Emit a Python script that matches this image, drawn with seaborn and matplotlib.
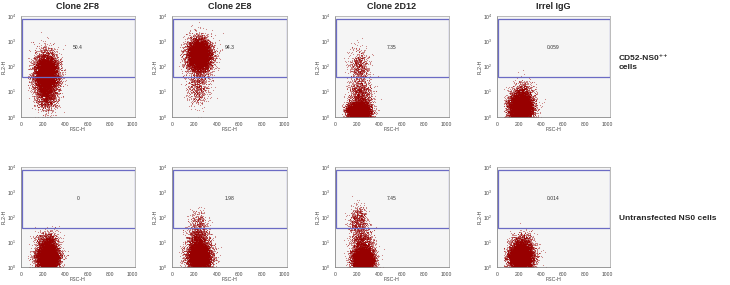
import numpy as np
import pandas as pd
import matplotlib
matplotlib.use("Agg")
import matplotlib.pyplot as plt
from matplotlib.patches import Rectangle
from matplotlib.ticker import FixedLocator, NullFormatter
import seaborn as sns

# --- data ---
clones = ["Clone 2F8", "Clone 2E8", "Clone 2D12", "Irrel IgG"]
row_labels = ["CD52-NS0⁺⁺\ncells", "Untransfected NS0 cells"]
gate_pct_top = ["50.4", "94.3", "7.35", "0.059"]
gate_pct_bottom = ["0", "1.98", "7.45", "0.014"]

gate_fsc = [10, 1023]      # FSC-H range of the gate
gate_fl2 = [38, 7600]      # FL2-H range of the gate

x_ticks = [0, 200, 400, 600, 800, 1000]
y_ticks = [1, 10, 100, 1000, 10000]
y_tick_labels = ["10$^0$", "10$^1$", "10$^2$", "10$^3$", "10$^4$"]

# cell populations per panel: (FSC centre, FSC sd, log10 FL2 centre, log10 sd, share)
pops_top = [
    [(225, 55, 1.70, 0.42, 0.85), (228, 52, 0.90, 0.35, 0.15)],
    [(242, 55, 2.45, 0.33, 0.92), (232, 50, 1.20, 0.35, 0.08)],
    [(212, 50, 0.22, 0.18, 0.78), (228, 52, 0.85, 0.35, 0.14), (218, 44, 2.00, 0.35, 0.08)],
    [(215, 55, 0.40, 0.28, 0.92), (228, 50, 0.95, 0.25, 0.08)],
]
pops_bottom = [
    [(240, 50, 0.35, 0.25, 0.85), (240, 50, 0.95, 0.22, 0.15)],
    [(242, 52, 0.40, 0.28, 0.80), (232, 50, 1.10, 0.35, 0.18), (232, 44, 1.90, 0.20, 0.02)],
    [(252, 48, 0.30, 0.22, 0.78), (242, 50, 0.95, 0.30, 0.14), (208, 40, 1.85, 0.30, 0.08)],
    [(215, 55, 0.40, 0.26, 0.90), (228, 50, 0.95, 0.22, 0.10)],
]
n_events = 9000

# panel boxes in pixels: left, right (columns) and top, bottom (rows)
col_px = [(21, 135), (172, 287), (335, 449), (497, 610)]
row_px = [(16, 117), (167, 267)]
W, H = 730, 285


def make_events(pops, seed):
    # draws a sample cloud for the populations listed above
    rng = np.random.default_rng(seed)
    frames = []
    for cx, sx, cy, sy, share in pops:
        n = int(n_events * share)
        fsc = rng.normal(cx, sx, n)
        fl2 = 10 ** np.clip(rng.normal(cy, sy, n), 0.01, 3.99)
        frames.append(pd.DataFrame({"FSC-H": fsc, "FL2-H": fl2}))
    df = pd.concat(frames)
    return df[(df["FSC-H"] > 60) & (df["FSC-H"] < 1020)]


sns.set_style("white")
plt.rcParams["font.family"] = ["Liberation Sans", "DejaVu Sans"]
plt.rcParams["mathtext.fontset"] = "custom"
plt.rcParams["mathtext.rm"] = "Liberation Sans"
plt.rcParams["mathtext.it"] = "Liberation Sans"

fig = plt.figure(figsize=(W / 100, H / 100), dpi=100)
fig.patch.set_facecolor("white")

for r, (pops_row, pcts) in enumerate([(pops_top, gate_pct_top), (pops_bottom, gate_pct_bottom)]):
    top, bot = row_px[r]
    for c in range(4):
        left, right = col_px[c]
        ax = fig.add_axes([left / W, 1 - bot / H, (right - left) / W, (bot - top) / H])
        ax.set_facecolor("#f5f5f5")
        df = make_events(pops_row[c], seed=10 * r + c)
        sns.scatterplot(data=df, x="FSC-H", y="FL2-H", ax=ax, s=0.6, color="#980000",
                        linewidth=0, alpha=0.5, legend=False, rasterized=True)
        ax.set_yscale("log")
        ax.set_xlim(0, 1024)
        ax.set_ylim(1, 10000)
        ax.add_patch(Rectangle((gate_fsc[0], gate_fl2[0]), gate_fsc[1] - gate_fsc[0],
                               gate_fl2[1] - gate_fl2[0], fill=False,
                               edgecolor="#6b6bc4", linewidth=0.9, zorder=5))
        ax.text(510, 560, pcts[c], fontsize=3.6, ha="center", va="center", color="#333333")

        ax.set_xticks(x_ticks)
        ax.set_xticklabels([str(t) for t in x_ticks])
        ax.xaxis.set_minor_locator(FixedLocator(np.arange(0, 1025, 50)))
        ax.set_yticks(y_ticks)
        ax.set_yticklabels(y_tick_labels)
        ax.yaxis.set_minor_formatter(NullFormatter())
        ax.tick_params(axis="both", which="major", labelsize=3.6, length=1.8, width=0.5,
                       pad=1.5, colors="#555555", labelcolor="#444444", direction="out")
        ax.tick_params(axis="both", which="minor", length=1.0, width=0.4, colors="#555555")
        ax.tick_params(axis="y", which="minor", length=0)
        ax.set_xlabel("FSC-H", fontsize=3.8, labelpad=0.5, color="#444444")
        ax.set_ylabel("FL2-H", fontsize=3.8, labelpad=0.5, color="#444444")
        for side, sp in ax.spines.items():
            sp.set_linewidth(0.6)
            sp.set_color("#888888" if side in ("left", "bottom") else "#b0b0b0")
        if r == 0:
            ax.set_title(clones[c], fontsize=6.5, fontweight="bold", pad=5)

fig.text(619 / W, 1 - 63 / H, row_labels[0], fontsize=6, fontweight="bold",
         ha="left", va="center", linespacing=1.3)
fig.text(619 / W, 1 - 218 / H, row_labels[1], fontsize=6, fontweight="bold",
         ha="left", va="center")

fig.savefig("out.png", dpi=100, facecolor="white")
